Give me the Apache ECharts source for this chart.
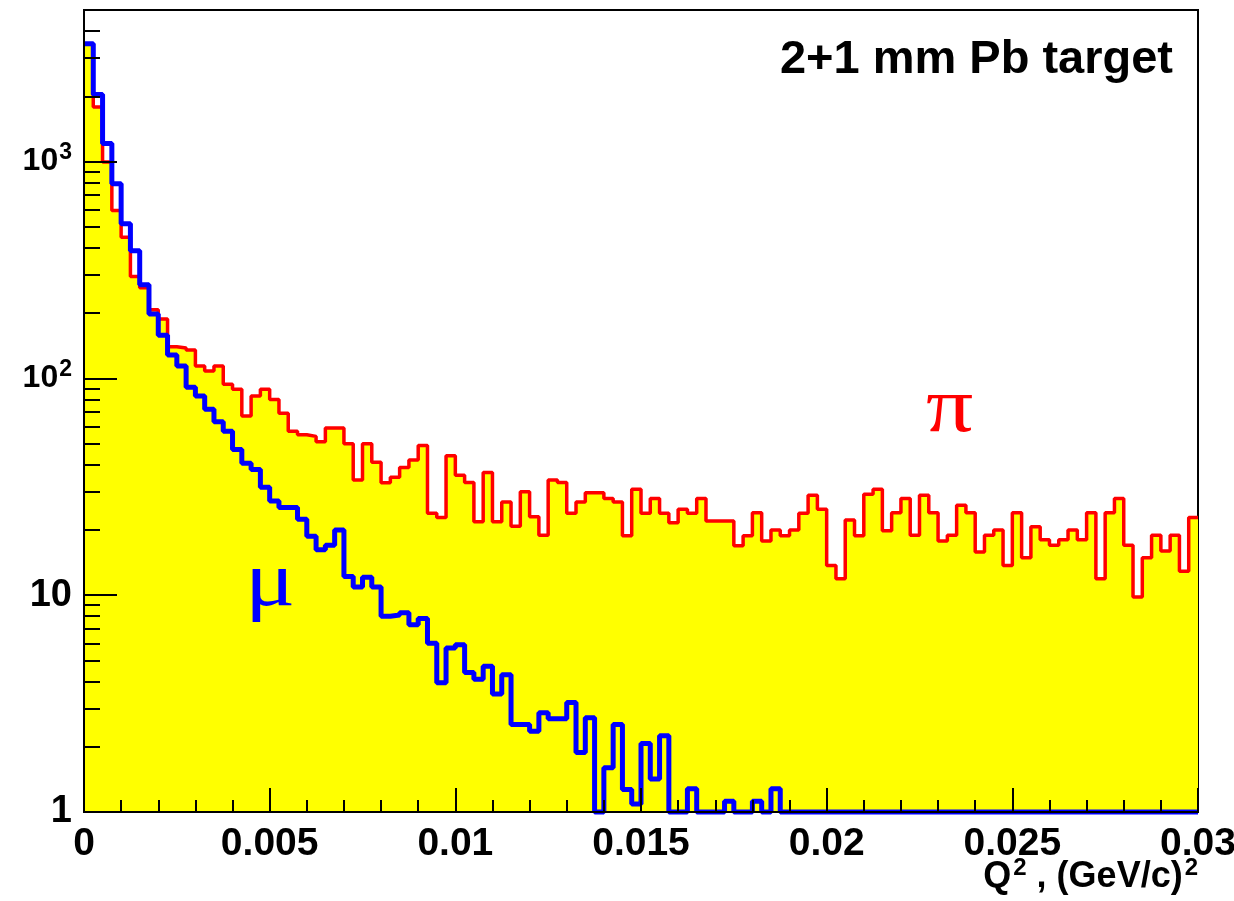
<!DOCTYPE html>
<html>
<head>
<meta charset="utf-8">
<script src="https://cdn.jsdelivr.net/npm/echarts@6.0.0/dist/echarts.min.js"></script>
<style>
html, body { margin: 0; padding: 0; background: #fff; }
#chart { width: 1234px; height: 901px; }
</style>
</head>
<body>
<div id="chart"></div>
<script>
// histogram binning: 120 bins of 0.00025 (GeV/c)^2 from 0 to 0.03
var binWidth = 0.00025;

// pi counts per bin
var piCounts = [
	3490, 1786, 995, 594, 448, 295, 262, 207, 188, 140,
	138, 135, 114, 108, 114, 94, 89, 67, 83, 89,
	80, 69, 57, 55, 54, 51, 59, 59, 50, 34,
	50, 41, 33, 35, 38.8, 42, 49, 23.9, 22.8, 44,
	35.7, 33.1, 21.8, 36.8, 21.8, 26.9, 20.8, 30, 23, 18.9,
	34, 33.1, 23.9, 26.9, 29.7, 29.7, 27.9, 26.9, 18.8, 30.8,
	23.9, 27.9, 23.9, 21.6, 24.9, 23.9, 27.9, 22, 22, 22,
	16.9, 18.8, 24, 17.8, 20, 18.8, 20, 23.9, 28.9, 24.9,
	13.7, 11.9, 22.2, 18.8, 29.2, 30.8, 19.8, 24, 27.9, 18.9,
	28.9, 24, 17.8, 18.9, 26, 24, 15.8, 18.9, 20, 13.7,
	24, 14.9, 20.7, 18, 17, 18, 20, 18, 24, 11.9,
	24, 27.9, 17, 9.8, 14.9, 18.9, 16, 18.9, 12.9, 22.8
];

// mu counts per bin (empty bins sit on the axis floor, 1)
var muCounts = [
	3490, 2040, 1210, 790, 516, 388, 270, 198, 158, 128,
	114, 91, 83, 72, 63, 57, 47, 40.6, 38, 31.5,
	27.2, 25.4, 25.4, 22.4, 18.7, 16.2, 17, 20, 12.2, 10.9,
	12.1, 10.9, 8.0, 8.1, 8.3, 7.3, 7.8, 6.0, 3.95, 5.7,
	5.9, 4.4, 4.1, 4.7, 3.5, 4.3, 2.53, 2.53, 2.36, 2.87,
	2.69, 2.69, 3.2, 1.88, 2.72, 1, 1.6, 2.53, 1.27, 1.09,
	2.07, 1.42, 2.25, 1, 1, 1.28, 1, 1, 1, 1.12,
	1, 1, 1.12, 1, 1.28, 1, 1, 1, 1, 1,
	1, 1, 1, 1, 1, 1, 1, 1, 1, 1,
	1, 1, 1, 1, 1, 1, 1, 1, 1, 1,
	1, 1, 1, 1, 1, 1, 1, 1, 1, 1,
	1, 1, 1, 1, 1, 1, 1, 1, 1, 1
];

var xTickLabels = ['0', '0.005', '0.01', '0.015', '0.02', '0.025', '0.03'];
var yMajor = [1, 10, 100, 1000];
var yMinor = [2, 3, 4, 5, 6, 7, 8, 9,
	20, 30, 40, 50, 60, 70, 80, 90,
	200, 300, 400, 500, 600, 700, 800, 900,
	2000, 3000, 4000];

var font = 'Liberation Sans';

// step points at bin left edges, plus the closing right edge
function histPoints(counts){
	var pts = counts.map(function(c, i){
		return [i * 25 / 100000, c];
	});
	pts.push([counts.length * 25 / 100000, counts[counts.length - 1]]);
	return pts;
}

var chart = echarts.init(document.getElementById('chart'));

var option = {
	animation: false,
	backgroundColor: '#fff',
	title: {
		text: '2+1 mm Pb target',
		right: 56,
		top: 32,
		textStyle: {
			fontFamily: font,
			fontWeight: 'bold',
			fontSize: 47,
			color: '#000'
		}
	},
	grid: {
		left: 84,
		right: 36,
		top: 10,
		bottom: 89,
		outerBoundsMode: 'none',
		containLabel: false,
		show: true,
		borderColor: '#000',
		borderWidth: 2,
		backgroundColor: '#fff'
	},
	xAxis: [{
		type: 'value',
		min: 0,
		max: 0.03,
		interval: 0.005,
		z: 10,
		axisLine: { onZero: false, lineStyle: { color: '#000', width: 2 } },
		axisTick: { inside: true, length: 24, lineStyle: { color: '#000', width: 2 } },
		minorTick: { show: true, splitNumber: 5, length: 12, lineStyle: { color: '#000', width: 2 } },
		splitLine: { show: false },
		axisLabel: {
			color: '#000',
			fontFamily: font,
			fontWeight: 'bold',
			fontSize: 39,
			margin: 13,
			hideOverlap: false,
			formatter: function(v, idx){
				return xTickLabels[idx];
			}
		}
	}],
	yAxis: [{
		type: 'log',
		logBase: 10,
		min: 1,
		max: 5000,
		z: 10,
		axisLine: { show: true, onZero: false, lineStyle: { color: '#000', width: 2 } },
		axisTick: { inside: true, length: 33, customValues: yMajor, lineStyle: { color: '#000', width: 2 } },
		splitLine: { show: false },
		axisLabel: {
			customValues: yMajor,
			margin: 12,
			color: '#000',
			fontFamily: font,
			fontWeight: 'bold',
			fontSize: 32,
			formatter: function(v){
				if(v < 100){
					return '{n|' + Math.round(v) + '}';
				}
				return '{b|10}{s|' + Math.round(Math.log10(v)) + '}';
			},
			rich: {
				n: { fontFamily: font, fontWeight: 'bold', fontSize: 38, color: '#000' },
				b: { fontFamily: font, fontWeight: 'bold', fontSize: 32, color: '#000' },
				s: { fontFamily: font, fontWeight: 'bold', fontSize: 23, color: '#000', padding: [0, 0, 18, 1] }
			}
		}
	}, {
		type: 'log',
		logBase: 10,
		min: 1,
		max: 5000,
		position: 'left',
		z: 10,
		axisLine: { show: false },
		axisLabel: { show: false },
		splitLine: { show: false },
		axisTick: { inside: true, length: 16, customValues: yMinor, lineStyle: { color: '#000', width: 2 } }
	}],
	graphic: [
		{
			type: 'text',
			x: 926,
			y: 372,
			scaleX: 1.2,
			z: 20,
			style: { text: 'π', font: '78px "Liberation Serif"', fill: '#ff0000' }
		},
		{
			type: 'text',
			x: 245,
			y: 546,
			scaleX: 1.2,
			z: 20,
			style: { text: 'μ', font: '78px "Liberation Serif"', fill: '#0000ff' }
		},
		{
			type: 'text',
			right: 36,
			top: 856,
			z: 20,
			style: {
				text: '{b|Q}{s|2}{b| , (GeV/c)}{s|2}',
				rich: {
					b: { fontFamily: font, fontWeight: 'bold', fontSize: 36, fill: '#000' },
					s: { fontFamily: font, fontWeight: 'bold', fontSize: 24, fill: '#000', padding: [0, 0, 18, 2] }
				}
			}
		}
	],
	series: [{
		name: 'pi',
		type: 'line',
		step: 'end',
		xAxisIndex: 0,
		yAxisIndex: 0,
		data: histPoints(piCounts),
		symbol: 'none',
		lineStyle: { color: '#ff0000', width: 3.5 },
		areaStyle: { color: '#ffff00', opacity: 1, origin: 'start' },
		z: 2
	}, {
		name: 'mu',
		type: 'line',
		step: 'end',
		xAxisIndex: 0,
		yAxisIndex: 0,
		data: histPoints(muCounts),
		symbol: 'none',
		lineStyle: { color: '#0000ff', width: 5 },
		clip: false,
		z: 3
	}]
};

chart.setOption(option);

window.onresize = function(){
	chart.resize();
}
</script>
</body>
</html>
